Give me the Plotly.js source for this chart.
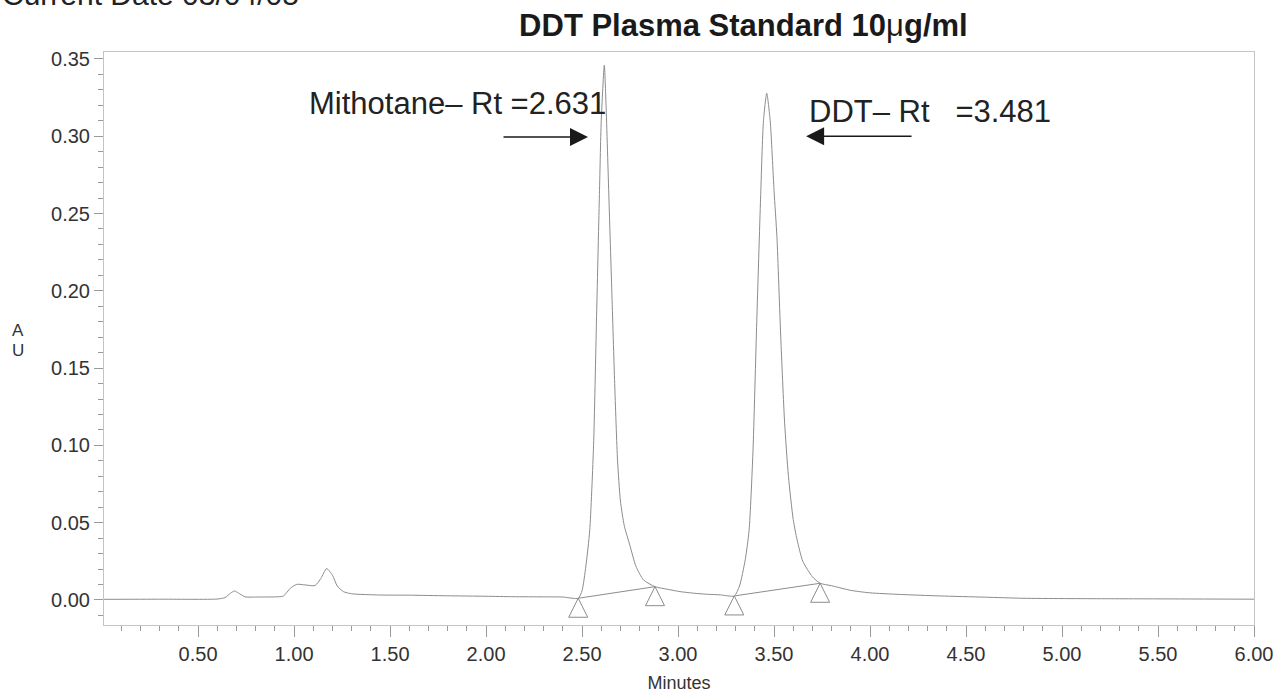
<!DOCTYPE html>
<html>
<head>
<meta charset="utf-8">
<script src="https://cdn.plot.ly/plotly-3.0.1.min.js"></script>
<style>
html,body{margin:0;padding:0;background:#ffffff;}
#chart{width:1278px;height:694px;}
</style>
</head>
<body>
<div id="chart"></div>
<script>
// Chromatogram trace (minutes, AU)
const timeMin = [0.00, 0.30, 0.60, 0.64, 0.67, 0.69, 0.71, 0.745, 0.80, 0.90, 0.944, 0.98, 1.014, 1.06, 1.109, 1.14, 1.17, 1.20, 1.225, 1.257, 1.30, 1.448, 1.60, 1.795, 2.00, 2.14, 2.30, 2.40, 2.48,
  2.50, 2.52, 2.54, 2.56, 2.575, 2.59, 2.60, 2.616, 2.625, 2.64, 2.655, 2.67, 2.685, 2.70, 2.72, 2.75, 2.78, 2.82, 2.88,
  2.95, 3.01, 3.08, 3.149, 3.22, 3.293,
  3.32, 3.35, 3.37, 3.39, 3.41, 3.43, 3.445, 3.462, 3.48, 3.50, 3.515, 3.535, 3.555, 3.575, 3.60, 3.62, 3.65, 3.70, 3.74,
  3.80, 3.90, 4.00, 4.15, 4.365, 4.60, 4.797, 5.00, 5.20, 5.50, 6.00];
const absorbanceAU = [0.0004, 0.0005, 0.0006, 0.0015, 0.0045, 0.0058, 0.0045, 0.0020, 0.0019, 0.0020, 0.0025, 0.0075, 0.0101, 0.0097, 0.0093, 0.0140, 0.0203, 0.0160, 0.0090, 0.0054, 0.0040, 0.0032, 0.0031, 0.0027, 0.0024, 0.0021, 0.0020, 0.0019, 0.0011,
  0.0060, 0.0220, 0.0450, 0.1000, 0.1800, 0.2600, 0.3100, 0.3460, 0.3200, 0.2600, 0.2000, 0.1400, 0.0900, 0.0640, 0.0480, 0.0350, 0.0220, 0.0130, 0.0086,
  0.0068, 0.0054, 0.0044, 0.0037, 0.0033, 0.0026,
  0.0090, 0.0260, 0.0450, 0.0950, 0.1800, 0.2600, 0.3100, 0.3278, 0.3100, 0.2650, 0.2350, 0.1700, 0.1150, 0.0800, 0.0520, 0.0390, 0.0250, 0.0150, 0.0108,
  0.0092, 0.0062, 0.0046, 0.0036, 0.0026, 0.0018, 0.0011, 0.0009, 0.0008, 0.0007, 0.0005];

// Integration baseline start / end points (peak markers)
const peakStartTime = [2.48, 3.293];
const peakStartAU = [0.0011, 0.0026];
const peakEndTime = [2.88, 3.74];
const peakEndAU = [0.0086, 0.0108];

// Peak labels
const peakNames = ["Mithotane", "DDT"];
const retentionTimes = ["2.631", "3.481"];

// Tick labels
const xTickVals = [0.5, 1.0, 1.5, 2.0, 2.5, 3.0, 3.5, 4.0, 4.5, 5.0, 5.5, 6.0];
const yTickVals = [0.00, 0.05, 0.10, 0.15, 0.20, 0.25, 0.30, 0.35];

const lineGray = '#8c8c8c';
const frameGray = '#c4c4c4';
const tickGray = '#9a9a9a';
const textCol = '#333333';
const fontFam = 'Arial, "Liberation Sans", Helvetica, sans-serif';

// Build baseline segments from start/end arrays
const baseX = [], baseY = [];
for (let i = 0; i < peakStartTime.length; i++) {
  baseX.push(peakStartTime[i], peakEndTime[i], null);
  baseY.push(peakStartAU[i], peakEndAU[i], null);
}
const markX = peakStartTime.concat(peakEndTime);
const markY = peakStartAU.concat(peakEndAU);

const traces = [
  {x: timeMin, y: absorbanceAU, type: 'scatter', mode: 'lines',
   line: {color: lineGray, width: 1, shape: 'spline', smoothing: 0.6}, hoverinfo: 'skip'},
  {x: baseX, y: baseY, type: 'scatter', mode: 'lines',
   line: {color: lineGray, width: 1}, connectgaps: false, hoverinfo: 'skip'},
  {x: markX, y: markY, type: 'scatter', mode: 'markers',
   marker: {symbol: 'arrow-up-open', size: 19, color: lineGray, line: {color: lineGray, width: 1}}, hoverinfo: 'skip'}
];

const layout = {
  width: 1278, height: 694,
  paper_bgcolor: '#ffffff', plot_bgcolor: '#ffffff',
  showlegend: false,
  margin: {l: 104, r: 24, t: 52, b: 69},
  title: {
    text: '<b>DDT Plasma Standard 10</b>μ<b>g/ml</b>',
    font: {family: fontFam, size: 31, color: '#1a1a1a'},
    x: 0.556, xanchor: 'center', xref: 'paper',
    y: 1 - 25/694, yanchor: 'middle', yref: 'container'
  },
  xaxis: {
    range: [0.01, 6.0], showgrid: false, zeroline: false,
    showline: true, linecolor: frameGray, linewidth: 1, mirror: true,
    tickmode: 'array', tickvals: xTickVals, tickformat: '.2f',
    ticks: 'outside', ticklen: 11, tickcolor: tickGray, tickwidth: 1,
    minor: {dtick: 0.1, tick0: 0, ticks: 'outside', ticklen: 5, tickcolor: tickGray, tickwidth: 1},
    tickfont: {family: fontFam, size: 20, color: textCol},
    title: {text: 'Minutes', font: {family: fontFam, size: 18, color: textCol}, standoff: 12}
  },
  yaxis: {
    range: [-0.0162, 0.3545], showgrid: false, zeroline: false,
    showline: true, linecolor: frameGray, linewidth: 1, mirror: true,
    tickmode: 'array', tickvals: yTickVals, tickformat: '.2f',
    ticks: 'outside', ticklen: 9, tickcolor: tickGray, tickwidth: 1,
    minor: {dtick: 0.01, tick0: 0, ticks: 'outside', ticklen: 5, tickcolor: tickGray, tickwidth: 1},
    tickfont: {family: fontFam, size: 20, color: textCol}
  },
  annotations: [
    {text: 'Current Date 03/04/05', xref: 'paper', yref: 'paper', x: -0.0904, y: 1.0995,
     xanchor: 'left', yanchor: 'middle', showarrow: false,
     font: {family: fontFam, size: 30, color: '#222'}},
    {text: 'A', xref: 'paper', yref: 'paper', x: (18 - 104) / 1150, y: (625 - 330) / 573,
     xanchor: 'center', yanchor: 'middle', showarrow: false, height: 18,
     font: {family: fontFam, size: 17, color: textCol}},
    {text: 'U', xref: 'paper', yref: 'paper', x: (18 - 104) / 1150, y: (625 - 350) / 573,
     xanchor: 'center', yanchor: 'middle', showarrow: false, height: 18,
     font: {family: fontFam, size: 17, color: textCol}},
    {text: peakNames[0] + '–\u00a0Rt =' + retentionTimes[0], xref: 'x', yref: 'y', x: 1.852, y: 0.321,
     xanchor: 'center', yanchor: 'middle', showarrow: false,
     font: {family: fontFam, size: 31, color: '#222'}},
    {text: peakNames[1] + '–\u00a0Rt \u00a0\u00a0=' + retentionTimes[1], xref: 'x', yref: 'y', x: 3.672, y: 0.316,
     xanchor: 'left', yanchor: 'middle', showarrow: false,
     font: {family: fontFam, size: 31, color: '#222'}},
    {text: '', xref: 'x', yref: 'y', x: 2.531, y: 0.2995, axref: 'x', ayref: 'y', ax: 2.083, ay: 0.2995,
     showarrow: true, arrowhead: 2, arrowsize: 2.4, arrowwidth: 1.5, arrowcolor: '#1a1a1a'},
    {text: '', xref: 'x', yref: 'y', x: 3.667, y: 0.300, axref: 'x', ayref: 'y', ax: 4.224, ay: 0.300,
     showarrow: true, arrowhead: 2, arrowsize: 2.4, arrowwidth: 1.5, arrowcolor: '#1a1a1a'}
  ]
};

Plotly.newPlot('chart', traces, layout, {staticPlot: true, displayModeBar: false});
</script>
</body>
</html>
